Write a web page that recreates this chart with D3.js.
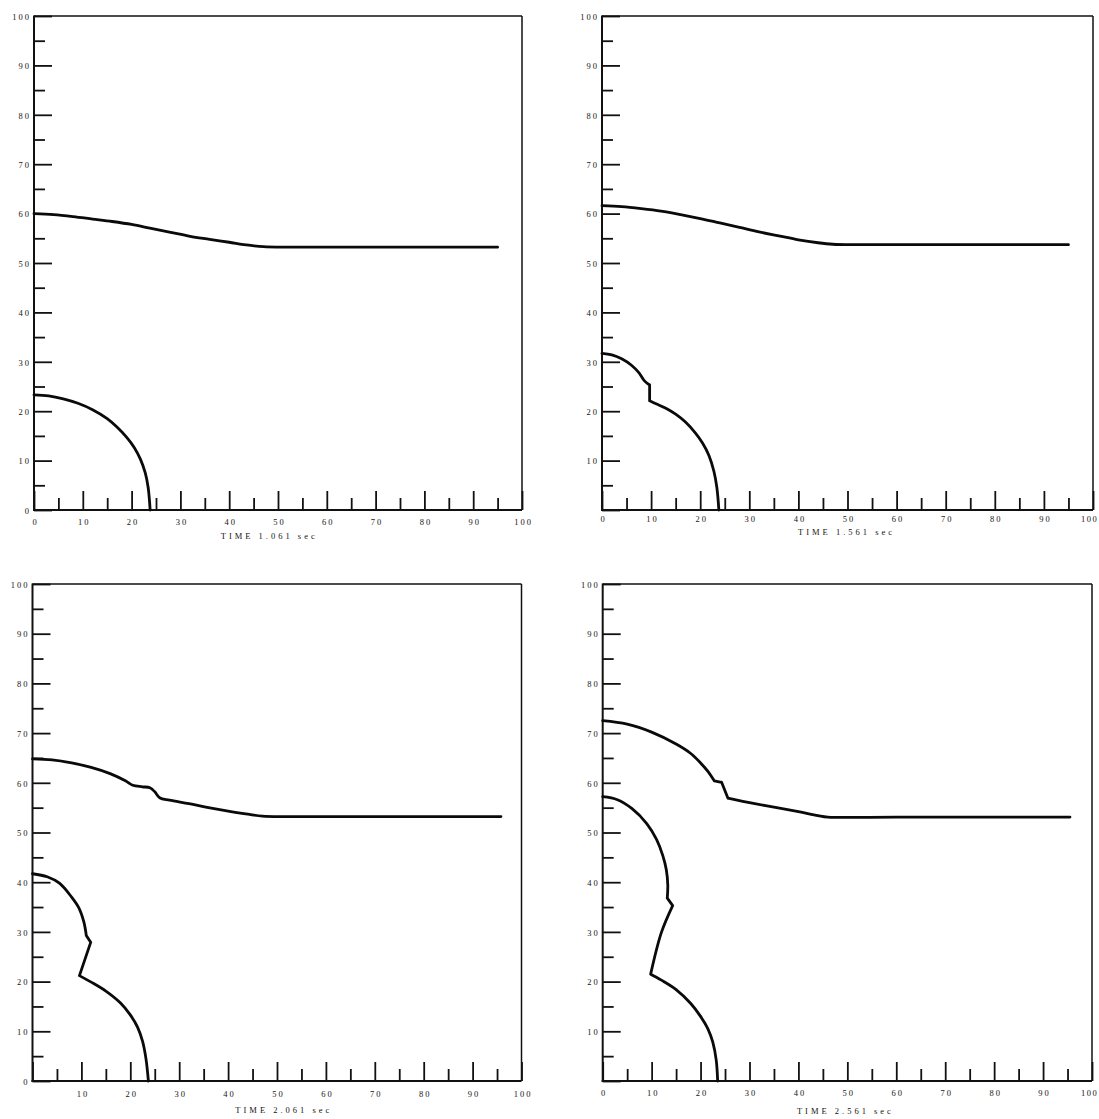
<!DOCTYPE html>
<html><head><meta charset="utf-8">
<script src="https://cdn.jsdelivr.net/npm/d3@7"></script>
<style>
body{margin:0;background:#fff;}
svg text{font-family:"Liberation Serif","Times New Roman",serif;fill:#151515;}
</style></head><body>
<svg id="c" width="1099" height="1119"></svg>
<script>
// ---- tick values / labels ----
const majorTicks = [0,10,20,30,40,50,60,70,80,90,100];
const minorTicks = [5,15,25,35,45,55,65,75,85,95];
const yLabelsWithZero = [0,10,20,30,40,50,60,70,80,90,100];
const yLabelsNoZero = [10,20,30,40,50,60,70,80,90,100];
const xLabelsWithZero = [0,10,20,30,40,50,60,70,80,90,100];
const xLabelsNoZero = [10,20,30,40,50,60,70,80,90,100];
const fadedXLabels = [10,20,30];
const titles = ["TIME 1.061 sec","TIME 1.561 sec","TIME 2.061 sec","TIME 2.561 sec"];

// ---- series: lists of smooth pieces of [x, y]; pieces meet at sharp kinks ----
const p1Upper = [[[0,60],[4,59.8],[8,59.4],[12,58.9],[16,58.4],[20,57.8],[24,57.0],[28,56.2],[32,55.4],[36,54.8],[40,54.2],[44,53.6],[47,53.3],[52,53.2],[60,53.2],[75,53.2],[95,53.2]]];
const p1Lower = [[[0,23.3],[3,23.1],[6,22.5],[9,21.6],[12,20.3],[15,18.5],[17,16.8],[19,14.7],[20.5,12.7],[21.8,10.3],[22.8,7.5],[23.4,4.5],[23.8,0]]];

const p2Upper = [[[0,61.6],[4,61.4],[8,61.0],[12,60.5],[16,59.8],[20,59.0],[24,58.1],[28,57.2],[32,56.3],[36,55.5],[40,54.7],[44,54.1],[47,53.8],[52,53.7],[60,53.7],[75,53.7],[95,53.7]]];
const p2Lower = [
  [[0,31.7],[2,31.4],[4,30.6],[6,29.3],[7.5,27.8],[8.6,26.2],[9.7,25.3]],
  [[9.7,25.3],[9.7,22.1]],
  [[9.7,22.1],[11,21.5],[13,20.6],[15,19.4],[17,17.8],[19,15.6],[20.5,13.5],[21.8,11],[22.8,7.8],[23.4,4.5],[23.8,0]]
];

const p3Upper = [[[0,64.8],[4,64.6],[8,64.0],[12,63.1],[16,61.8],[19,60.4],[20.5,59.5],[22.5,59.2],[24,59.0],[25,58.2],[26,57.0],[28,56.5],[32,55.8],[36,55.0],[40,54.3],[44,53.7],[47,53.3],[52,53.2],[70,53.2],[95.8,53.2]]];
const p3Lower = [
  [[0,41.7],[3,41.1],[5.5,39.8],[8,37.0],[9.5,34.8],[10.5,32],[11,29.3]],
  [[11,29.3],[11.9,27.9]],
  [[11.9,27.9],[9.6,21.2]],
  [[9.6,21.2],[12,19.9],[15,18.1],[18,15.7],[20,13.3],[21.5,10.8],[22.5,8],[23.2,4.5],[23.7,0]]
];

const p4Upper = [
  [[0,72.5],[5,71.8],[10,70.2],[15,67.8],[18,65.9],[20,64.0],[21.5,62.3],[22.8,60.4]],
  [[22.8,60.4],[24.3,60.1]],
  [[24.3,60.1],[25.6,56.9]],
  [[25.6,56.9],[27,56.6],[30,56.0],[35,55.1],[40,54.2],[44,53.4],[46,53.1],[60,53.1],[80,53.1],[95.5,53.1]]
];
const p4Lower = [
  [[0,57.2],[3,56.6],[6,54.8],[9,51.8],[11,48.6],[12.3,45.3],[13.0,42.5],[13.3,39.5],[13.2,36.8]],
  [[13.2,36.8],[14.3,35.3]],
  [[14.3,35.3],[12,29.9],[9.8,21.5]],
  [[9.8,21.5],[12,20.3],[15,18.4],[18,15.6],[20,13.0],[21.5,10.5],[22.5,7.8],[23.2,4.2],[23.5,0]]
];

// ---- layout (pixels) ----
const layouts = [
  {x0:34,   x1:522,   y0:510,  y1:16,  labelDy:12, titleDy:26, titleX:48.2, lastDx:0},
  {x0:602,  x1:1093,  y0:510,  y1:16,  labelDy:9,  titleDy:22, titleX:49.8, lastDx:-5},
  {x0:32.5, x1:521.5, y0:1081, y1:584, labelDy:13, titleDy:29, titleX:51.4, lastDx:0},
  {x0:602.7,x1:1092,  y0:1081, y1:584, labelDy:12, titleDy:30, titleX:49.6, lastDx:-4}
];
const panelData = [
  {upper:p1Upper, lower:p1Lower, yLabels:yLabelsWithZero, xLabels:xLabelsWithZero, faded:[]},
  {upper:p2Upper, lower:p2Lower, yLabels:yLabelsNoZero,   xLabels:xLabelsWithZero, faded:[]},
  {upper:p3Upper, lower:p3Lower, yLabels:yLabelsWithZero, xLabels:xLabelsNoZero,   faded:fadedXLabels},
  {upper:p4Upper, lower:p4Lower, yLabels:yLabelsNoZero,   xLabels:xLabelsWithZero, faded:[]}
];

const svg = d3.select("#c");
svg.append("rect").attr("width",1099).attr("height",1119).attr("fill","#fff");

panelData.forEach((pd,i)=>{
  const L = layouts[i];
  const x = d3.scaleLinear().domain([0,100]).range([L.x0,L.x1]);
  const y = d3.scaleLinear().domain([0,100]).range([L.y0,L.y1]);
  const g = svg.append("g");

  const styleTicks = sel => {
    sel.select(".domain").remove();
    sel.selectAll(".tick line").attr("stroke","#111").attr("stroke-width",1.8);
    sel.selectAll(".tick text").attr("font-size","8.5px").attr("letter-spacing","2px")
      .attr("font-family","Liberation Serif, Times New Roman, serif").attr("fill","#151515");
  };

  // y axis: major ticks + labels
  g.append("g").attr("transform",`translate(${L.x0},0)`)
    .call(d3.axisLeft(y).tickValues(majorTicks).tickSizeInner(-18).tickSizeOuter(0).tickPadding(3)
      .tickFormat(v => pd.yLabels.includes(v) ? String(v) : ""))
    .call(styleTicks)
    .call(s => s.selectAll(".tick text").attr("dy","0.38em"));
  // y axis minor ticks
  g.append("g").attr("transform",`translate(${L.x0},0)`)
    .call(d3.axisLeft(y).tickValues(minorTicks).tickSizeInner(-11).tickSizeOuter(0).tickFormat(""))
    .call(styleTicks);

  // x axis: major ticks + labels
  g.append("g").attr("transform",`translate(0,${L.y0})`)
    .call(d3.axisBottom(x).tickValues(majorTicks).tickSizeInner(-19).tickSizeOuter(0).tickPadding(L.labelDy-3)
      .tickFormat(v => pd.xLabels.includes(v) ? String(v) : ""))
    .call(styleTicks)
    .call(s => s.selectAll(".tick text")
      .attr("dx", v => (v === 100 ? 1 + L.lastDx : 1) + "px")
      .attr("letter-spacing", v => (v === 100 && L.lastDx < 0) ? "1.5px" : "2px")
      .attr("fill", v => pd.faded.includes(v) ? "#b5b5b5" : "#151515"));
  // x axis minor ticks
  g.append("g").attr("transform",`translate(0,${L.y0})`)
    .call(d3.axisBottom(x).tickValues(minorTicks).tickSizeInner(-12).tickSizeOuter(0).tickFormat(""))
    .call(styleTicks);

  // frame
  g.append("line").attr("x1",x(0)).attr("x2",x(100)).attr("y1",y(100)).attr("y2",y(100))
    .attr("stroke","#111").attr("stroke-width",1.3);
  g.append("line").attr("x1",x(100)).attr("x2",x(100)).attr("y1",y(100)).attr("y2",y(0))
    .attr("stroke","#111").attr("stroke-width",1.5);
  g.append("line").attr("x1",x(0)).attr("x2",x(0)).attr("y1",y(100)-0.5).attr("y2",y(0)+1)
    .attr("stroke","#111").attr("stroke-width",2);
  g.append("line").attr("x1",x(0)-1).attr("x2",x(100)).attr("y1",y(0)).attr("y2",y(0))
    .attr("stroke","#111").attr("stroke-width",2);

  // curves (smooth pieces, sharp joins between pieces)
  const line = d3.line().x(d=>x(d[0])).y(d=>y(d[1])).curve(d3.curveCatmullRom.alpha(0.5));
  [pd.upper, pd.lower].forEach(series=>{
    g.append("path").attr("d", series.map(piece => line(piece)).join(""))
      .attr("fill","none").attr("stroke","#0a0a0a").attr("stroke-width",2.8)
      .attr("stroke-linejoin","round").attr("stroke-linecap","round");
  });

  // title
  g.append("text").attr("x",x(L.titleX)).attr("y",L.y0+L.titleDy+3)
    .attr("text-anchor","middle").attr("font-size","8.5px").attr("letter-spacing","3px")
    .text(titles[i]);
});
</script>
</body></html>
